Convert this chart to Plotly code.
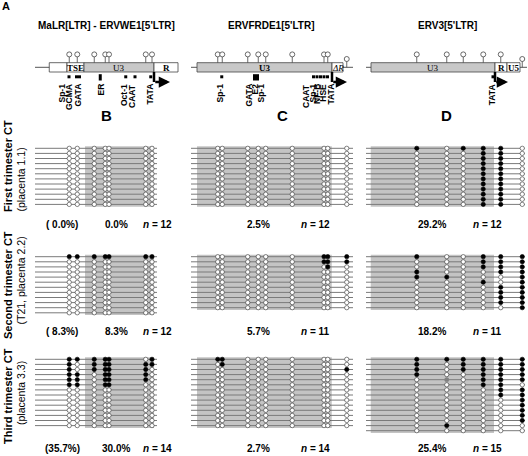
import plotly.graph_objects as go

W, H = 528, 456
SANS = "Liberation Sans, Arial, sans-serif"
SERIF = "Liberation Serif, Times New Roman, serif"

# ---------------- data ----------------
titles = ["MaLR[LTR] - ERVWE1[5'LTR]", "ERVFRDE1[5'LTR]", "ERV3[5'LTR]"]
panel_letters = ["B", "C", "D"]
row_labels = ["First trimester CT", "Second trimester CT", "Third trimester CT"]
row_sublabels = ["(placenta 1.1)", "(T21, placenta 2.2)", "(placenta 3.3)"]

# CpG positions along each LTR (bp)
cpg_B = [137, 169, 237, 281, 296, 443, 468]
cpg_C = [107, 125, 227, 269, 299, 405, 532, 547, 623]
cpg_D = [203, 323, 389, 469, 539, 625]

# methylation per clone: 1 methylated, 0 unmethylated, g not determined
meth_B1 = ["0000000"] * 12
meth_B2 = ["1111111"] + ["0000000"] * 11
meth_B3 = ["1111101", "1011111", "1011110", "1101110", "1101110", "1101100"] + ["0000000"] * 8

meth_C1 = ["000000000"] * 12
meth_C2 = ["000000111", "000000111", "000000010"] + ["000000000"] * 8
meth_C3 = ["110000000", "010000000", "000000001"] + ["000000000"] * 11

meth_D1 = ["101110"] + ["000110"] * 11
meth_D2 = ["100111", "000111", "000111", "100011", "110001", "000101",
           "000011", "000011", "000011", "000011", "000001"]
meth_D3 = ["111111", "101111", "101111", "100111", "0g0111", "000110", "000011",
           "000011", "000001", "000001", "000001", "000001", "000001", "010000", "000000"]

pct_tse_B = ["( 0.0%)", "( 8.3%)", "(35.7%)"]
pct_B = ["0.0%", "8.3%", "30.0%"]
pct_C = ["2.5%", "5.7%", "2.7%"]
pct_D = ["29.2%", "18.2%", "25.4%"]

# LTR structure (bp): (label, start, end, filled)
segments_B = [("", 57, 128, False), ("<b>TSE</b>", 128, 196, False), ("U3", 196, 476, True), ("<b>R</b>", 476, 572, False)]
segments_C = [("<b>U3</b>", 24, 564, True), ("<i>ΔR</i>", 564, 608, False)]
segments_D = [("U3", 20, 516, True), ("<b>R</b>", 516, 564, False), ("<b>U5</b>", 564, 616, False)]
backbone = [(0, 572), (0, 648), (0, 644)]
read_span = [(0, 488), (0, 648), (0, 636)]
u3_span = [(200, 476), (24, 563), (19, 512)]
tss = [(476, 540), (564, 624), (516, 568)]

# transcription-factor sites
site_marks_B = [136, 166, 178, 363, 400, 463]
site_bars_B = [(255, 267)]
site_labels_B = [("Sp-1", 104), ("GCMA", 136), ("GATA", 168), ("ER", 262), ("Oct-1", 356), ("CAAT", 388), ("TATA", 456)]
site_marks_C = [123, 490, 504, 518, 532, 546]
site_bars_C = [(248, 272)]
site_labels_C = [("Sp-1", 112), ("GATA", 228), ("E2", 252), ("Sp-1", 276), ("CAAT", 460), ("Sp-1", 484),
                 ("NF-B", 504), ("HSE", 527), ("TATA", 556)]
site_marks_D = [508]
site_bars_D = []
site_labels_D = [("TATA", 503)]

# ---------------- layout helpers ----------------
cpgs = [cpg_B, cpg_C, cpg_D]
meths = [[meth_B1, meth_B2, meth_B3], [meth_C1, meth_C2, meth_C3], [meth_D1, meth_D2, meth_D3]]
segments = [segments_B, segments_C, segments_D]
site_marks = [site_marks_B, site_marks_C, site_marks_D]
site_bars = [site_bars_B, site_bars_C, site_bars_D]
site_labels = [site_labels_B, site_labels_C, site_labels_D]

col_px = [(35, 150, 600), (191, 165, 660), (366, 162, 648)]  # left px, width px, bp range
band_top = [148.3, 256.7, 359.3]
S = 5.1


def pxx(v):
    return v / W


def pxy(v):
    return 1 - v / H


layout = dict(width=W, height=H, margin=dict(l=0, r=0, t=0, b=0, pad=0),
              paper_bgcolor="white", plot_bgcolor="white", showlegend=False,
              font=dict(family=SANS, color="black"))
for i, (x0, w, r) in enumerate(col_px):
    name = "xaxis" if i == 0 else f"xaxis{i + 1}"
    layout[name] = dict(domain=[x0 / W, min(1.0, (x0 + w) / W)], range=[0, r], visible=False, fixedrange=True)
layout["yaxis"] = dict(domain=[pxy(130), pxy(40)], range=[130, 40], visible=False, fixedrange=True)
for b, T in enumerate(band_top):
    layout[f"yaxis{b + 2}"] = dict(domain=[pxy(T + 16 * S), pxy(T - S)], range=[16, -1],
                                   visible=False, fixedrange=True)

fig = go.Figure()
shapes = []
annotations = []

XR = ["x", "x2", "x3"]
BOX_TOP, BOX_BOT, LINE_Y = 62.7, 72.0, 67.3
SITE_Y, LABEL_TOP, ARROW_Y = 76.8, 82.0, 82.0

for c in range(3):
    xr = XR[c]
    # ---------- schematic ----------
    b0, b1 = backbone[c]
    shapes.append(dict(type="line", xref=xr, yref="y", x0=b0, x1=b1, y0=LINE_Y, y1=LINE_Y,
                       line=dict(color="#555", width=1), layer="below"))
    for lab, s0, s1, filled in segments[c]:
        shapes.append(dict(type="rect", xref=xr, yref="y", x0=s0, x1=s1, y0=BOX_TOP, y1=BOX_BOT,
                           fillcolor="#c8c8c8" if filled else "white",
                           line=dict(color="#444", width=0.8), layer="below"))
        if lab:
            annotations.append(dict(x=(s0 + s1) / 2, y=(BOX_TOP + BOX_BOT) / 2 + 0.3, xref=xr, yref="y",
                                    text=lab, showarrow=False, xanchor="center", yanchor="middle",
                                    font=dict(family=SERIF, size=9, color="black")))
    # lollipops on schematic
    sx, sy = [], []
    cx, cy = [], []
    for p in cpgs[c]:
        inside = any(s0 <= p <= s1 for _, s0, s1, _ in segments[c])
        base = BOX_TOP if inside else LINE_Y
        sx += [p, p, None]
        sy += [base, base - 6.5, None]
        cx.append(p)
        cy.append(base - 8.3)
    fig.add_trace(go.Scatter(x=sx, y=sy, xaxis=xr, yaxis="y", mode="lines",
                             line=dict(color="#444", width=0.8), hoverinfo="skip"))
    fig.add_trace(go.Scatter(x=cx, y=cy, xaxis=xr, yaxis="y", mode="markers",
                             marker=dict(size=5, color="white", line=dict(color="#444", width=0.8)),
                             hoverinfo="skip"))
    # sites
    if site_marks[c]:
        fig.add_trace(go.Scatter(x=site_marks[c], y=[SITE_Y] * len(site_marks[c]), xaxis=xr, yaxis="y",
                                 mode="markers", marker=dict(symbol="square", size=3, color="black"),
                                 hoverinfo="skip"))
    for s0, s1 in site_bars[c]:
        shapes.append(dict(type="rect", xref=xr, yref="y", x0=s0, x1=s1, y0=74.2, y1=80.5,
                           fillcolor="black", line=dict(width=0)))
    for lab, pos in site_labels[c]:
        annotations.append(dict(x=pos, y=LABEL_TOP, xref=xr, yref="y", text=f"<b>{lab}</b>", showarrow=False,
                                textangle=-90, xanchor="center", yanchor="top",
                                font=dict(family=SANS, size=8.5, color="black")))
    # transcription start arrow
    t0, t1 = tss[c]
    shapes.append(dict(type="line", xref=xr, yref="y", x0=t0, x1=t0, y0=BOX_BOT, y1=ARROW_Y,
                       line=dict(color="black", width=2.5)))
    annotations.append(dict(x=t1, y=ARROW_Y, ax=t0 - 1, ay=ARROW_Y, xref=xr, yref="y", axref=xr, ayref="y",
                            text="", showarrow=True, arrowhead=2, arrowsize=0.9, arrowwidth=2.5,
                            arrowcolor="black"))

    # ---------- clone panels ----------
    r0, r1 = read_span[c]
    g0, g1 = u3_span[c]
    for b in range(3):
        yr = f"y{b + 2}"
        rows = meths[c][b]
        n = len(rows)
        shapes.append(dict(type="rect", xref=xr, yref=yr, x0=g0, x1=g1, y0=-0.4, y1=n - 1 + 0.45,
                           fillcolor="#c4c4c4", line=dict(width=0), layer="below"))
        lx, ly = [], []
        for i in range(n):
            lx += [r0, r1, None]
            ly += [i, i, None]
        fig.add_trace(go.Scatter(x=lx, y=ly, xaxis=xr, yaxis=yr, mode="lines",
                                 line=dict(color="#7a7a7a", width=1), hoverinfo="skip"))
        groups = {"0": ([], []), "1": ([], []), "g": ([], [])}
        for i, row in enumerate(rows):
            for j, st in enumerate(row):
                groups[st][0].append(cpgs[c][j])
                groups[st][1].append(i)
        styles = {"0": "white", "1": "black", "g": "#808080"}
        for st, (gx, gy) in groups.items():
            if gx:
                fig.add_trace(go.Scatter(x=gx, y=gy, xaxis=xr, yaxis=yr, mode="markers",
                                         marker=dict(size=4.3, color=styles[st],
                                                     line=dict(color="#333" if st == "0" else styles[st],
                                                               width=0.6)),
                                         hoverinfo="skip"))

# ---------- texts ----------
def paper_text(x, y, text, size, angle=0):
    annotations.append(dict(x=pxx(x), y=pxy(y), xref="paper", yref="paper", text=text,
                            showarrow=False, xanchor="center", yanchor="middle", textangle=angle,
                            font=dict(size=size)))


paper_text(5.5, 6.5, "<b>A</b>", 11)
title_x = [106, 271, 447.5]
letter_x = [106.7, 282.5, 446.7]
for c in range(3):
    paper_text(title_x[c], 25, f"<b>{titles[c]}</b>", 10)
    paper_text(letter_x[c], 115.5, f"<b>{panel_letters[c]}</b>", 15)

text_y = [224, 331, 448]
label_y = [(166, 180), (285, 281), (396, 393.5)]
for b in range(3):
    items = [(62, pct_tse_B[b]), (116, pct_B[b]), (157, f"<i>n</i> = {len(meths[0][b])}"),
             (258, pct_C[b]), (315, f"<i>n</i> = {len(meths[1][b])}"),
             (431.7, pct_D[b]), (487.7, f"<i>n</i> = {len(meths[2][b])}")]
    for xpos, t in items:
        paper_text(xpos, text_y[b], f"<b>{t}</b>", 10)
    paper_text(8, label_y[b][0], f"<b>{row_labels[b]}</b>", 11, -90)
    paper_text(20.5, label_y[b][1], row_sublabels[b], 10.5, -90)

layout["shapes"] = shapes
layout["annotations"] = annotations
fig.update_layout(**layout)
fig.write_html("out.html", config={"displayModeBar": False, "staticPlot": True},
               post_script="document.body.style.margin='0';document.body.style.overflow='hidden';")
